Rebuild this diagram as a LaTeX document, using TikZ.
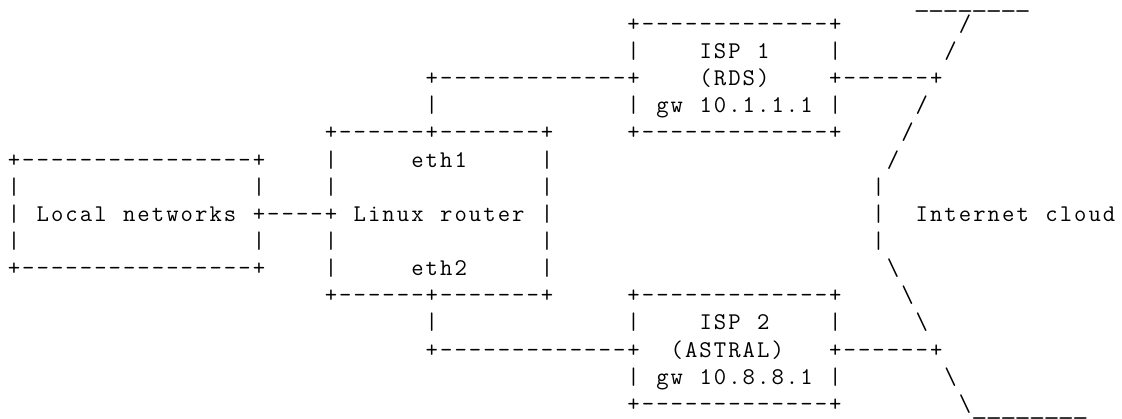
\documentclass[tikz,border=0pt]{standalone}
\usepackage{graphicx}

% fixed character cell of the ASCII grid
\newlength\asciicw
\setlength\asciicw{14.41pt}
\newcommand\asciicell[1]{\makebox[\asciicw][c]{#1}}
\def\asciiend{\asciiend}
\def\asciicells#1{\asciiloop#1\asciiend}
\def\asciiloop#1{\ifx#1\asciiend\else\asciicell{#1}\expandafter\asciiloop\fi}
\newcommand\us{\raisebox{-3.5pt}{\scalebox{1.3}[1]{\_}}}
\newcommand\bs{\textbackslash}

\tikzset{
  asciitext/.style={anchor=base west, inner sep=0pt, outer sep=0pt,
    font=\ttfamily\fontsize{24}{28}\selectfont}
}
% #1 name, #2 row, #3 column, #4 characters (~ = blank cell)
\newcommand\asciirow[4]{\node[asciitext] (#1) at ({6.8+#3*14.41},{4.3+#2*27.14}) {\asciicells{#4}};}

\begin{document}
\begin{tikzpicture}[x=1pt,y=-1pt]
\fill[white] (0,0) rectangle (1122,419);
\useasboundingbox (0,0) rectangle (1122,419);

% row 0
\asciirow{cloudtop}{0}{63}{\us\us\us\us\us\us\us\us}
% row 1
\asciirow{ispatop}{1}{43}{+-------------+}
\asciirow{cloudnwa}{1}{66}{/}
% row 2
\asciirow{ispaname}{2}{43}{|~~~~ISP~1~~~~|}
\asciirow{cloudnwb}{2}{65}{/}
% row 3
\asciirow{ispalink}{3}{29}{+-------------+~~~~(RDS)~~~~+------+}
% row 4
\asciirow{routerupa}{4}{29}{|}
\asciirow{ispagw}{4}{43}{|~gw~10.1.1.1~|}
\asciirow{cloudnwd}{4}{63}{/}
% row 5
\asciirow{routertop}{5}{22}{+------+-------+}
\asciirow{ispabottom}{5}{43}{+-------------+}
\asciirow{cloudnwe}{5}{62}{/}
% row 6
\asciirow{localtop}{6}{0}{+----------------+}
\asciirow{routerethone}{6}{22}{|~~~~~eth1~~~~~|}
\asciirow{cloudnwf}{6}{61}{/}
% row 7
\asciirow{localupper}{7}{0}{|~~~~~~~~~~~~~~~~|}
\asciirow{routerupper}{7}{22}{|~~~~~~~~~~~~~~|}
\asciirow{cloudwa}{7}{60}{|}
% row 8
\asciirow{locallink}{8}{0}{|~Local~networks~+----+~Linux~router~|}
\asciirow{cloudlabel}{8}{60}{|~~Internet~cloud}
% row 9
\asciirow{locallower}{9}{0}{|~~~~~~~~~~~~~~~~|}
\asciirow{routerlower}{9}{22}{|~~~~~~~~~~~~~~|}
\asciirow{cloudwb}{9}{60}{|}
% row 10
\asciirow{localbottom}{10}{0}{+----------------+}
\asciirow{routerethtwo}{10}{22}{|~~~~~eth2~~~~~|}
\asciirow{cloudswa}{10}{61}{\bs}
% row 11
\asciirow{routerbottom}{11}{22}{+------+-------+}
\asciirow{ispbtop}{11}{43}{+-------------+}
\asciirow{cloudswb}{11}{62}{\bs}
% row 12
\asciirow{routerdownb}{12}{29}{|}
\asciirow{ispbname}{12}{43}{|~~~~ISP~2~~~~|}
\asciirow{cloudswc}{12}{63}{\bs}
% row 13
\asciirow{ispblink}{13}{29}{+-------------+~~(ASTRAL)~~~+------+}
% row 14
\asciirow{ispbgw}{14}{43}{|~gw~10.8.8.1~|}
\asciirow{cloudswe}{14}{65}{\bs}
% row 15
\asciirow{ispbbottom}{15}{43}{+-------------+}
\asciirow{cloudbottom}{15}{66}{\bs\us\us\us\us\us\us\us\us}
\end{tikzpicture}
\end{document}
